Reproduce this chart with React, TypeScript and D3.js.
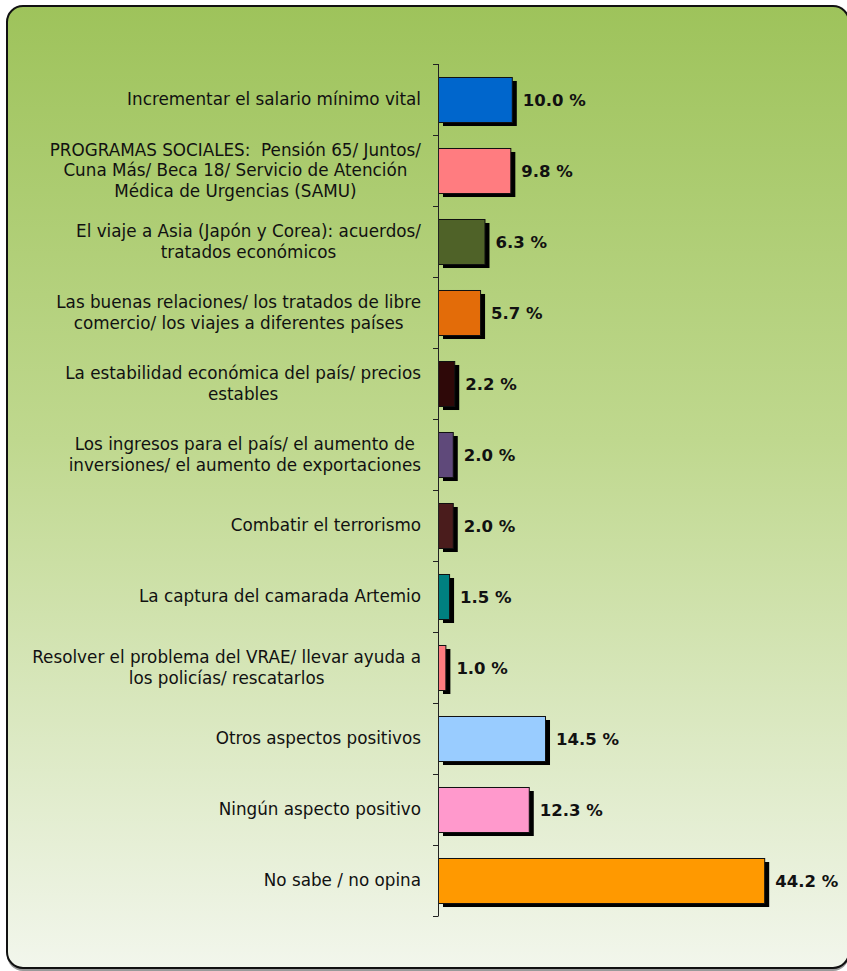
import React, { useEffect, useRef } from 'react';
import * as d3 from 'd3';

const categories = [
  'Incrementar el salario mínimo vital',
  'PROGRAMAS SOCIALES:  Pensión 65/ Juntos/|Cuna Más/ Beca 18/ Servicio de Atención|Médica de Urgencias (SAMU)',
  'El viaje a Asia (Japón y Corea): acuerdos/|tratados económicos',
  'Las buenas relaciones/ los tratados de libre|comercio/ los viajes a diferentes países',
  'La estabilidad económica del país/ precios|estables',
  'Los ingresos para el país/ el aumento de|inversiones/ el aumento de exportaciones',
  'Combatir el terrorismo',
  'La captura del camarada Artemio',
  'Resolver el problema del VRAE/ llevar ayuda a|los policías/ rescatarlos',
  'Otros aspectos positivos',
  'Ningún aspecto positivo',
  'No sabe / no opina',
];
const values = [10.0, 9.8, 6.3, 5.7, 2.2, 2.0, 2.0, 1.5, 1.0, 14.5, 12.3, 44.2];
const colors = [
  '#0066CC', '#FF7C80', '#4F6228', '#E36C09', '#2E0808', '#5F497A',
  '#4A1C1C', '#008080', '#FF7C80', '#99CCFF', '#FF99CC', '#FF9900',
];

const W = 847;
const H = 971;

const App = () => {
  const svgRef = useRef<SVGSVGElement>(null);

  useEffect(() => {
    const svg = d3.select(svgRef.current);
    svg.selectAll('*').remove();

    const defs = svg.append('defs');
    const grad = defs.append('linearGradient')
      .attr('id', 'bg')
      .attr('x1', 0).attr('y1', 0).attr('x2', 0).attr('y2', 1);
    grad.append('stop').attr('offset', '0%').attr('stop-color', '#9EC35B');
    grad.append('stop').attr('offset', '45%').attr('stop-color', '#BFD88E');
    grad.append('stop').attr('offset', '100%').attr('stop-color', '#F2F6EC');

    // frame
    svg.append('rect')
      .attr('x', 7).attr('y', 8).attr('width', 842).attr('height', 963)
      .attr('rx', 16).attr('fill', '#9a9a9a');
    svg.append('rect')
      .attr('x', 7).attr('y', 6).attr('width', 842).attr('height', 962)
      .attr('rx', 16)
      .attr('fill', 'url(#bg)')
      .attr('stroke', '#111')
      .attr('stroke-width', 2);

    const axisX = 438;
    const y = d3.scaleBand<number>()
      .domain(d3.range(categories.length))
      .range([64, 916])
      .paddingInner(0.366)
      .paddingOuter(0.183);
    const x = d3.scaleLinear().domain([0, 50]).range([axisX, axisX + 369]);

    const g = svg.append('g');

    // shadows
    g.selectAll('rect.shadow')
      .data(values)
      .enter()
      .append('rect')
      .attr('class', 'shadow')
      .attr('x', x(0) + 5)
      .attr('y', (d, i) => (y(i) as number) + 4)
      .attr('width', (d) => x(d) - x(0))
      .attr('height', y.bandwidth())
      .attr('fill', '#000');

    g.selectAll('rect.bar')
      .data(values)
      .enter()
      .append('rect')
      .attr('class', 'bar')
      .attr('x', x(0) + 0.5)
      .attr('y', (d, i) => (y(i) as number) + 0.5)
      .attr('width', (d) => x(d) - x(0))
      .attr('height', y.bandwidth())
      .attr('fill', (d, i) => colors[i])
      .attr('stroke', '#111')
      .attr('stroke-width', 1);

    // axis
    const step = y.step();
    g.append('line')
      .attr('x1', axisX + 0.5).attr('x2', axisX + 0.5)
      .attr('y1', 64).attr('y2', 916)
      .attr('stroke', '#222').attr('stroke-width', 1);
    g.selectAll('line.tick')
      .data(d3.range(categories.length + 1))
      .enter()
      .append('line')
      .attr('class', 'tick')
      .attr('x1', axisX - 5).attr('x2', axisX + 0.5)
      .attr('y1', (d) => 64 + d * step + 0.5)
      .attr('y2', (d) => 64 + d * step + 0.5)
      .attr('stroke', '#222').attr('stroke-width', 1);

    // value labels
    g.selectAll('text.val')
      .data(values)
      .enter()
      .append('text')
      .attr('class', 'val')
      .attr('x', (d) => x(d) + 11)
      .attr('y', (d, i) => (y(i) as number) + y.bandwidth() / 2 + 1)
      .attr('dy', '0.35em')
      .attr('font-family', 'DejaVu Sans, Verdana, sans-serif')
      .attr('font-weight', 'bold')
      .attr('font-size', 16.5)
      .attr('fill', '#111')
      .text((d) => `${d.toFixed(1)} %`);

    // category labels
    const lineH = 20.5;
    categories.forEach((c, i) => {
      const lines = c.split('|');
      const cy = (y(i) as number) + y.bandwidth() / 2;
      const t = g.append('text')
        .attr('font-family', 'DejaVu Sans, Verdana, sans-serif')
        .attr('font-size', 16.8)
        .attr('fill', '#111')
        .attr('text-anchor', 'middle')
        .style('white-space', 'pre');
      const spans = lines.map((l, k) =>
        t.append('tspan')
          .attr('y', cy + (k - (lines.length - 1) / 2) * lineH)
          .attr('dy', '0.35em')
          .text(l)
      );
      const maxW = d3.max(spans, (s) => (s.node() as SVGTSpanElement).getComputedTextLength()) || 0;
      const cx = 421 - maxW / 2;
      spans.forEach((s) => s.attr('x', cx));
    });
  }, []);

  return (
    <svg
      ref={svgRef}
      width={W}
      height={H}
      style={{ position: 'absolute', left: 0, top: 0 }}
    />
  );
};

export default App;
